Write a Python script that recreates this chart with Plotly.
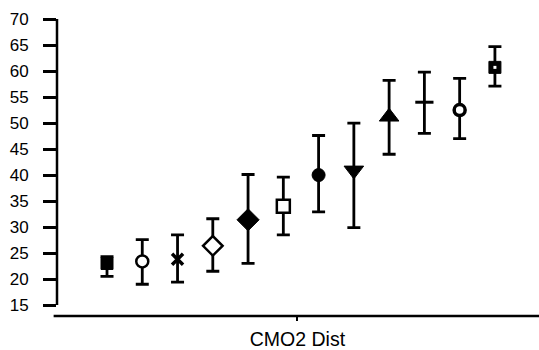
import plotly.graph_objects as go

# Group positions along the x axis and the summary statistics for each group
positions = [1, 2, 3, 4, 5, 6, 7, 8, 9, 10, 11, 12]
means = [23.0, 23.4, 23.8, 26.4, 31.4, 34.0, 40.0, 40.9, 51.2, 54.0, 52.5, 60.7]
upper = [24.3, 27.6, 28.5, 31.6, 40.1, 39.6, 47.6, 50.0, 58.2, 59.8, 58.6, 64.7]
lower = [20.5, 19.0, 19.4, 21.5, 23.0, 28.5, 32.9, 29.9, 44.0, 48.0, 47.0, 57.1]

y_ticks = [15, 20, 25, 30, 35, 40, 45, 50, 55, 60, 65, 70]
x_tick_pos = [6.4]
x_tick_text = ["CMO2 Dist"]

# Marker styling per group
symbols = ["square", "circle", "x-thin", "diamond", "diamond", "square",
           "circle", "triangle-down", "triangle-up", "line-ew", "circle", "square"]
fills = ["black", "white", "black", "white", "black", "white",
         "black", "black", "black", "black", "white", "black"]
sizes = [12, 12, 11, 15, 17, 13, 13, 17, 17, 13, 11, 12]
line_w = [1, 2.5, 3.5, 2.5, 1, 2.5, 1, 1, 1, 3, 3.5, 1]

err_plus = [u - m for u, m in zip(upper, means)]
err_minus = [m - l for m, l in zip(means, lower)]

fig = go.Figure()
fig.add_trace(go.Scatter(
    x=positions, y=means, mode="markers", opacity=1,
    marker=dict(symbol=symbols, color=fills, size=sizes, opacity=1,
                line=dict(color="black", width=line_w)),
    error_y=dict(type="data", symmetric=False, array=err_plus,
                 arrayminus=err_minus, color="black", thickness=2.8, width=6.5),
    hoverinfo="skip", showlegend=False,
))
# White centre dot on the last square marker
fig.add_trace(go.Scatter(
    x=positions[-1:], y=means[-1:], mode="markers", opacity=1,
    marker=dict(symbol="square", color="white", size=3, opacity=1, line=dict(width=0)),
    hoverinfo="skip", showlegend=False,
))

# Axis lines: the vertical one stops at the lowest tick, the horizontal one sits below it
fig.add_shape(type="line", xref="paper", yref="y", x0=0, x1=0, y0=15, y1=70,
              line=dict(color="black", width=2.5))
fig.add_shape(type="line", xref="paper", yref="paper", x0=-0.007, x1=1, y0=0, y1=0,
              line=dict(color="black", width=2.5))

fig.update_layout(
    width=539, height=350,
    margin=dict(l=57, r=0, t=19, b=31),
    plot_bgcolor="white", paper_bgcolor="white",
    font=dict(family="Liberation Sans, Arial, sans-serif", color="black"),
    xaxis=dict(range=[-0.418, 13.25], showgrid=False, zeroline=False, showline=False,
               tickmode="array", tickvals=x_tick_pos, ticktext=x_tick_text,
               ticks="outside", ticklen=4, tickwidth=2, tickcolor="black",
               tickfont=dict(size=19.5), ticklabelstandoff=2),
    yaxis=dict(range=[12.9, 70], showgrid=False, zeroline=False, showline=False,
               tickmode="array", tickvals=y_ticks,
               ticks="outside", ticklen=13, tickwidth=2.5, tickcolor="black",
               tickfont=dict(size=17), ticklabelstandoff=11),
)

fig.write_html("out.html")
